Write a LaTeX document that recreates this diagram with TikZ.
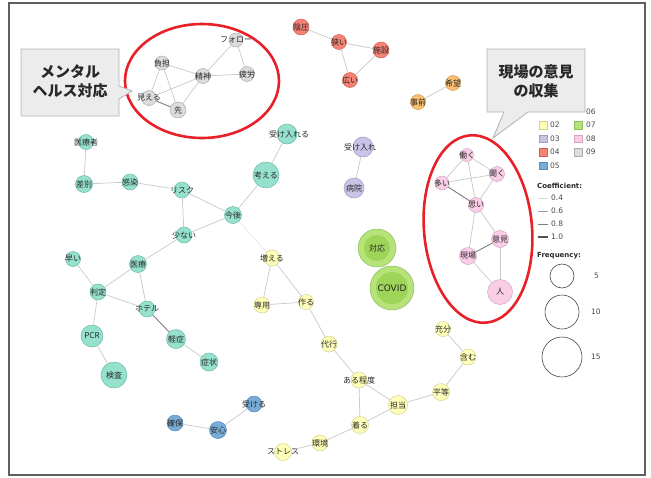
\documentclass[tikz,border=0pt]{standalone}
\usepackage{fontspec}
\setmainfont{DejaVu Sans}
\newfontfamily\jp{Noto Sans CJK JP}
\usepackage{tikz}
\usetikzlibrary{positioning, calc}
\definecolor{mydark}{RGB}{40,40,40}
\definecolor{myred}{RGB}{232,32,40}
\definecolor{framegray}{RGB}{95,95,95}
\definecolor{fillmint}{RGB}{150,225,205}
\definecolor{drawmint}{RGB}{105,185,165}
\definecolor{fillyellow}{RGB}{255,255,185}
\definecolor{drawyellow}{RGB}{210,210,140}
\definecolor{filllav}{RGB}{200,196,230}
\definecolor{drawlav}{RGB}{160,155,200}
\definecolor{fillsalmon}{RGB}{245,130,115}
\definecolor{drawsalmon}{RGB}{205,100,90}
\definecolor{fillblue}{RGB}{120,172,215}
\definecolor{drawblue}{RGB}{88,140,188}
\definecolor{fillorange}{RGB}{250,192,112}
\definecolor{draworange}{RGB}{212,155,80}
\definecolor{filllime}{RGB}{182,226,122}
\definecolor{innerlime}{RGB}{158,212,88}
\definecolor{drawlime}{RGB}{140,190,90}
\definecolor{fillpink}{RGB}{250,205,230}
\definecolor{drawpink}{RGB}{212,165,195}
\definecolor{fillgray}{RGB}{220,220,220}
\definecolor{drawgray}{RGB}{172,172,172}
\definecolor{tiegray}{RGB}{200,200,200}
\definecolor{tiedark}{RGB}{125,125,125}
\definecolor{tiefaint}{RGB}{228,228,228}
\definecolor{boxgray}{RGB}{236,236,236}
\definecolor{boxline}{RGB}{178,178,178}
\definecolor{ringgray}{RGB}{70,70,70}
\tikzset{
  bubble/.style={circle, inner sep=0pt, minimum size=15pt, line width=0.5pt},
  word/.style={font=\jp\fontsize{8}{9}\selectfont, text=mydark, inner sep=0pt},
  mint/.style={bubble, fill=fillmint, draw=drawmint},
  yellow/.style={bubble, fill=fillyellow, draw=drawyellow},
  lav/.style={bubble, fill=filllav, draw=drawlav},
  salmon/.style={bubble, fill=fillsalmon, draw=drawsalmon},
  blue/.style={bubble, fill=fillblue, draw=drawblue},
  orange/.style={bubble, fill=fillorange, draw=draworange},
  lime/.style={bubble, fill=filllime, draw=drawlime},
  pink/.style={bubble, fill=fillpink, draw=drawpink},
  grey/.style={bubble, fill=fillgray, draw=drawgray},
  tie/.style={draw=tiegray, line width=0.7pt},
  darktie/.style={draw=tiedark, line width=0.9pt},
  fainttie/.style={draw=tiefaint, line width=0.6pt},
  callout/.style={fill=boxgray, draw=boxline, line width=0.8pt},
  calltext/.style={font=\jp\bfseries\fontsize{15}{19}\selectfont, align=center,
    text=mydark, inner sep=0pt},
  halo/.style={draw=myred, line width=2.6pt},
  keybox/.style={rectangle, minimum size=7.5pt, inner sep=0pt, line width=0.5pt},
  keytext/.style={font=\fontsize{7.5}{9}\selectfont, text=mydark!85, anchor=west,
    inner sep=0pt},
  keyhead/.style={font=\bfseries\fontsize{7}{8}\selectfont, text=mydark, anchor=west,
    inner sep=0pt},
  sizering/.style={circle, draw=ringgray, line width=0.6pt, inner sep=0pt}
}

\begin{document}
\begin{tikzpicture}[x=1pt, y=-1pt]
  \useasboundingbox (0,0) rectangle (651,477);
  % Frame
  \draw[framegray, line width=1.5pt] (9,3) rectangle (645,475);

  % Cluster 01 (mint)
  \node[mint, minimum size=15pt, label={[word]center:医療者}] (iryousha) at (86,142) {};
  \node[mint, minimum size=17pt, label={[word]center:差別}] (sabetsu) at (84,184) {};
  \node[mint, minimum size=16pt, label={[word]center:感染}] (kansen) at (130,182) {};
  \node[mint, minimum size=16pt, label={[word]center:リスク}] (risuku) at (182,190) {};
  \node[mint, minimum size=20pt, label={[word, xshift=2pt]center:受け入れる}] (ukeireru) at (287,134) {};
  \node[mint, minimum size=26pt, label={[word]center:考える}] (kangaeru) at (266,175) {};
  \node[mint, minimum size=17pt, label={[word]center:今後}] (kongo) at (233,215) {};
  \node[mint, minimum size=16pt, label={[word]center:少ない}] (sukunai) at (184,235) {};
  \node[mint, minimum size=15pt, label={[word]center:早い}] (hayai) at (73,259) {};
  \node[mint, minimum size=17pt, label={[word]center:医療}] (iryou) at (138,264) {};
  \node[mint, minimum size=16pt, label={[word]center:判定}] (hantei) at (98,292) {};
  \node[mint, minimum size=16pt, label={[word]center:ホテル}] (hoteru) at (147,309) {};
  \node[mint, minimum size=22pt, label={[word]center:PCR}] (pcr) at (92,336) {};
  \node[mint, minimum size=26pt, label={[word]center:検査}] (kensa) at (114,375) {};
  \node[mint, minimum size=19pt, label={[word]center:軽症}] (keishou) at (176,339) {};
  \node[mint, minimum size=18pt, label={[word]center:症状}] (shoujou) at (209,362) {};
  \draw[tie] (iryousha) -- (sabetsu);
  \draw[tie] (sabetsu) -- (kansen);
  \draw[tie] (kansen) -- (risuku);
  \draw[tie] (risuku) -- (kongo);
  \draw[tie] (risuku) -- (sukunai);
  \draw[tie] (ukeireru) -- (kangaeru);
  \draw[tie] (kangaeru) -- (kongo);
  \draw[tie] (kongo) -- (sukunai);
  \draw[tie] (sukunai) -- (iryou);
  \draw[tie] (hayai) -- (hantei);
  \draw[tie] (iryou) -- (hantei);
  \draw[tie] (iryou) -- (hoteru);
  \draw[tie] (hantei) -- (hoteru);
  \draw[tie] (hantei) -- (pcr);
  \draw[tie] (pcr) -- (kensa);
  \draw[darktie] (hoteru) -- (keishou);
  \draw[tie] (keishou) -- (shoujou);

  % Cluster 02 (yellow)
  \node[yellow, minimum size=16pt, label={[word]center:増える}] (fueru) at (272,258) {};
  \node[yellow, minimum size=16pt, label={[word]center:専用}] (senyou) at (262,305) {};
  \node[yellow, minimum size=15pt, label={[word]center:作る}] (tsukuru) at (306,302) {};
  \node[yellow, minimum size=16pt, label={[word]center:代行}] (daikou) at (329,344) {};
  \node[yellow, minimum size=16pt, label={[word]center:ある程度}] (aruteido) at (359,380) {};
  \node[yellow, minimum size=19pt, label={[word]center:担当}] (tantou) at (398,405) {};
  \node[yellow, minimum size=17pt, label={[word]center:着る}] (kiru) at (360,425) {};
  \node[yellow, minimum size=16pt, label={[word]center:環境}] (kankyou) at (320,443) {};
  \node[yellow, minimum size=17pt, label={[word]center:ストレス}] (sutoresu) at (283,452) {};
  \node[yellow, minimum size=17pt, label={[word]center:平等}] (byoudou) at (441,392) {};
  \node[yellow, minimum size=16pt, label={[word]center:含む}] (fukumu) at (468,357) {};
  \node[yellow, minimum size=15pt, label={[word]center:充分}] (juubun) at (443,329) {};
  \draw[fainttie] (kongo) -- (fueru);
  \draw[tie] (fueru) -- (senyou);
  \draw[tie] (fueru) -- (tsukuru);
  \draw[tie] (senyou) -- (tsukuru);
  \draw[tie] (tsukuru) -- (daikou);
  \draw[tie] (daikou) -- (aruteido);
  \draw[tie] (aruteido) -- (tantou);
  \draw[tie] (aruteido) -- (kiru);
  \draw[tie] (kiru) -- (tantou);
  \draw[tie] (kiru) -- (kankyou);
  \draw[tie] (kankyou) -- (sutoresu);
  \draw[tie] (tantou) -- (byoudou);
  \draw[tie] (byoudou) -- (fukumu);
  \draw[tie] (fukumu) -- (juubun);

  % Cluster 03 (lavender)
  \node[lav, minimum size=20pt, label={[word, xshift=-3pt]center:受け入れ}] (ukeire) at (363,147) {};
  \node[lav, minimum size=20pt, label={[word]center:病院}] (byouin) at (354,188) {};
  \draw[tie] (ukeire) -- (byouin);

  % Cluster 04 (salmon)
  \node[salmon, minimum size=16pt, label={[word]center:陰圧}] (inatsu) at (301,27) {};
  \node[salmon, minimum size=15pt, label={[word]center:狭い}] (semai) at (339,42) {};
  \node[salmon, minimum size=16pt, label={[word]center:施設}] (shisetsu) at (381,50) {};
  \node[salmon, minimum size=15pt, label={[word]center:広い}] (hiroi) at (350,80) {};
  \draw[tie] (inatsu) -- (semai);
  \draw[tie] (semai) -- (shisetsu);
  \draw[tie] (semai) -- (hiroi);
  \draw[tie] (hiroi) -- (shisetsu);

  % Cluster 05 (blue)
  \node[blue, minimum size=16pt, label={[word]center:確保}] (kakuho) at (175,423) {};
  \node[blue, minimum size=17pt, label={[word]center:安心}] (anshin) at (218,430) {};
  \node[blue, minimum size=16pt, label={[word]center:受ける}] (ukeru) at (254,404) {};
  \draw[tie] (kakuho) -- (anshin);
  \draw[tie] (anshin) -- (ukeru);

  % Cluster 06 (orange)
  \node[orange, minimum size=15pt, label={[word]center:希望}] (kibou) at (453,83) {};
  \node[orange, minimum size=15pt, label={[word]center:事前}] (jizen) at (418,102) {};
  \draw[tie] (kibou) -- (jizen);

  % Cluster 07 (lime)
  \node[lime, minimum size=38pt,
    path picture={\fill[innerlime] (path picture bounding box.center) circle (13pt);},
    label={[word]center:対応}] (taiou) at (377,248) {};
  \node[lime, minimum size=44pt,
    path picture={\fill[innerlime] (path picture bounding box.center) circle (16pt);},
    label={[word, font=\fontsize{9}{10}\selectfont]center:COVID}] (covid) at (392,288) {};
  \draw[tie] (taiou) -- (covid);

  % Cluster 08 (pink)
  \node[pink, minimum size=13pt, label={[word]center:働く}] (hataraku) at (467,155) {};
  \node[pink, minimum size=15pt, label={[word]center:聞く}] (kiku) at (497,174) {};
  \node[pink, minimum size=14pt, label={[word]center:多い}] (ooi) at (442,183) {};
  \node[pink, minimum size=15pt, label={[word]center:思い}] (omoi) at (476,205) {};
  \node[pink, minimum size=17pt, label={[word]center:意見}] (iken) at (500,239) {};
  \node[pink, minimum size=17pt, label={[word]center:現場}] (genba) at (468,256) {};
  \node[pink, minimum size=25pt, label={[word]center:人}] (hito) at (500,292) {};
  \draw[tie] (hataraku) -- (ooi);
  \draw[tie] (hataraku) -- (kiku);
  \draw[tie] (hataraku) -- (omoi);
  \draw[tie] (ooi) -- (kiku);
  \draw[darktie] (ooi) -- (omoi);
  \draw[tie] (kiku) -- (omoi);
  \draw[tie] (omoi) -- (iken);
  \draw[tie] (omoi) -- (genba);
  \draw[darktie] (iken) -- (genba);
  \draw[tie] (iken) -- (hito);
  \draw[tie] (genba) -- (hito);

  % Cluster 09 (grey)
  \node[grey, minimum size=14pt, label={[word]center:フォロー}] (foroo) at (236,40) {};
  \node[grey, minimum size=14pt, label={[word]center:負担}] (futan) at (162,63) {};
  \node[grey, minimum size=15pt, label={[word]center:精神}] (seishin) at (203,76) {};
  \node[grey, minimum size=15pt, label={[word]center:疲労}] (hirou) at (247,74) {};
  \node[grey, minimum size=15pt, label={[word]center:見える}] (mieru) at (149,98) {};
  \node[grey, minimum size=16pt, label={[word]center:先}] (saki) at (178,110) {};
  \draw[tie] (foroo) -- (seishin);
  \draw[tie] (foroo) -- (hirou);
  \draw[tie] (futan) -- (seishin);
  \draw[tie] (seishin) -- (hirou);
  \draw[tie] (futan) -- (mieru);
  \draw[tie] (futan) -- (saki);
  \draw[tie] (mieru) -- (seishin);
  \draw[darktie] (mieru) -- (saki);
  \draw[tie] (saki) -- (seishin);

  % Legend: groups
  \node[keytext] (t06) at (586,112) {06};
  \node[keybox, fill=fillyellow, draw=drawyellow] (k02) at (543,125) {};
  \node[keybox, fill=filllav, draw=drawlav] (k03) at (543,138.5) {};
  \node[keybox, fill=fillsalmon, draw=drawsalmon] (k04) at (543,152) {};
  \node[keybox, fill=fillblue, draw=drawblue] (k05) at (543,165.5) {};
  \node[keybox, fill=filllime, draw=drawlime] (k07) at (578,125) {};
  \node[keybox, fill=fillpink, draw=drawpink] (k08) at (578,138.5) {};
  \node[keybox, fill=fillgray, draw=drawgray] (k09) at (578,152) {};
  \node[keytext] (t02) at (550,125) {02};
  \node[keytext] (t03) at (550,138.5) {03};
  \node[keytext] (t04) at (550,152) {04};
  \node[keytext] (t05) at (550,165.5) {05};
  \node[keytext] (t07) at (586,125) {07};
  \node[keytext] (t08) at (586,138.5) {08};
  \node[keytext] (t09) at (586,152) {09};

  % Legend: coefficient
  \node[keyhead] (coefhead) at (537,186) {Coefficient:};
  \draw[tiegray!70, line width=0.6pt] (538,198) -- ++(10,0);
  \draw[tiegray!80!black, line width=0.8pt] (538,211) -- ++(10,0);
  \draw[tiedark, line width=1pt] (538,224) -- ++(10,0);
  \draw[mydark!80, line width=1.2pt] (538,237) -- ++(10,0);
  \node[keytext] (c04) at (551,198) {0.4};
  \node[keytext] (c06) at (551,211) {0.6};
  \node[keytext] (c08) at (551,224) {0.8};
  \node[keytext] (c10) at (551,237) {1.0};

  % Legend: frequency
  \node[keyhead] (freqhead) at (537,256) {Frequency:};
  \node[sizering, minimum size=24pt] (f05) at (562,276) {};
  \node[sizering, minimum size=34pt] (f10) at (562,312) {};
  \node[sizering, minimum size=40pt] (f15) at (562,357) {};
  \node[keytext] (n05) at (594,276) {5};
  \node[keytext] (n10) at (591,312) {10};
  \node[keytext] (n15) at (591,357) {15};

  % Highlights
  \draw[halo] (202,81) ellipse [x radius=77, y radius=57];
  \draw[halo, rotate around={5:(478,229)}] (478,229) ellipse [x radius=54, y radius=94];

  % Callout: mental health
  \draw[callout] (21,49) -- (119,49) -- (119,86) -- (132,91) -- (119,99)
    -- (119,116) -- (21,116) -- cycle;
  \node[calltext] (mentaltext) at (70,81) {メンタル\\ヘルス対応};
  % Callout: field opinions
  \draw[callout] (487,49) -- (585,49) -- (585,112) -- (528,112) -- (493,138)
    -- (504,112) -- (487,112) -- cycle;
  \node[calltext] (fieldtext) at (536,81) {現場の意見\\の収集};
\end{tikzpicture}
\end{document}
